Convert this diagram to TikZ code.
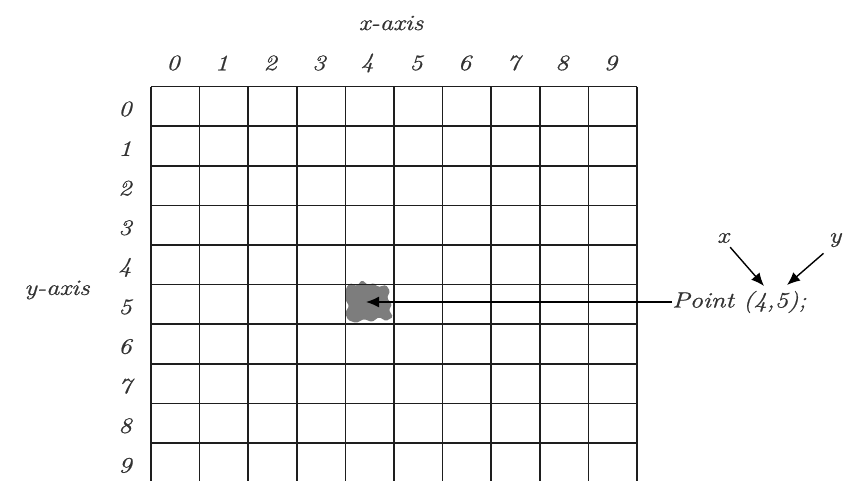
\documentclass[tikz,border=0pt]{standalone}
\usepackage{fontspec}
\newfontfamily\hand[FakeStretch=1.2,FakeBold=0.8]{Latin Modern Roman}
\usetikzlibrary{arrows.meta}
\definecolor{gridline}{RGB}{30,30,30}
\definecolor{blobgray}{RGB}{125,125,125}
\tikzset{
  lbl/.style={font=\hand\itshape\fontsize{22}{22}\selectfont, inner sep=0pt, text=black!80},
  gridl/.style={draw=gridline, line width=1.6pt},
  ptr/.style={draw=black, line width=1.4pt, -{Latex[length=13pt,width=11pt]}},
  blobfill/.style={fill=blobgray, draw=none}
}
\begin{document}
\begin{tikzpicture}[x=1pt,y=-1pt]
\useasboundingbox (0,0) rectangle (845,480);
\begin{scope}
\clip (0,0) rectangle (845,480);
% blob in cell (4,5)
\path[blobfill, rounded corners=1.5pt] (346,288) -- (350,283) -- (357,286) -- (362,280) -- (368,285) -- (374,283) -- (378,287) -- (386,285) -- (390,291) -- (387,298) -- (392,304) -- (389,310) -- (393,317) -- (386,321) -- (379,317) -- (372,322) -- (364,319) -- (356,323) -- (348,320) -- (345,313) -- (349,306) -- (345,299) -- cycle;
\coordinate (tip) at (366,303);
% grid
\foreach \i in {0,...,10} {
  \draw[gridl] ({151+\i*48.6},86.5) -- ({151+\i*48.6},490);
}
\foreach \j in {0,...,10} {
  \draw[gridl] (151,{86.5+\j*39.6}) -- (637,{86.5+\j*39.6});
}
\end{scope}
% column labels
\foreach \i in {0,...,9} {
  \node[lbl] (c\i) at ({173+\i*48.6},63) {\i};
}
% row labels
\foreach \j in {0,...,9} {
  \node[lbl] (r\j) at (125,{109+\j*39.6}) {\j};
}
\node[lbl] (xaxis) at (391,23) {x-axis};
\node[lbl] (yaxis) at (57,290) {y-axis};
\node[lbl, anchor=west] (pt) at (672,302) {Point (4,5);};
\node[lbl] (xl) at (723,238) {x};
\node[lbl] (yl) at (835,240) {y};
\coordinate (xtip) at (764,286);
\coordinate (ytip) at (787,285);
\draw[ptr] (pt.west) -- (pt.west -| tip);
\draw[ptr] (xl.south east) ++(1,4) -- (xtip);
\draw[ptr] (yl.south west) ++(-5,6) -- (ytip);
\end{tikzpicture}
\end{document}
